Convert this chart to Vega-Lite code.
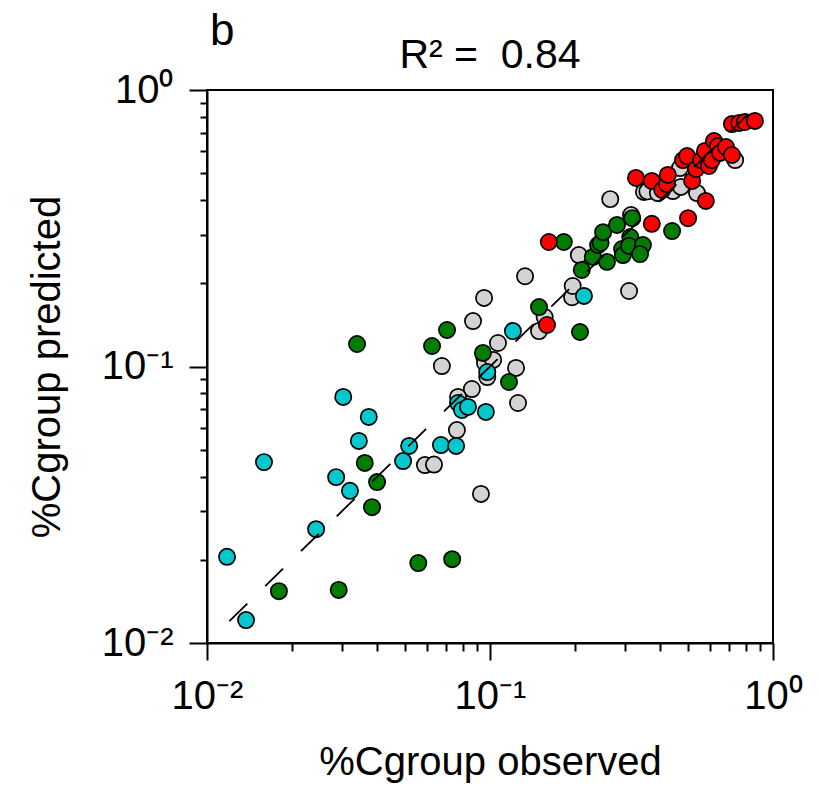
{
  "$schema": "https://vega.github.io/schema/vega-lite/v6.json",
  "width": 566,
  "height": 553,
  "autosize": "none",
  "padding": {"left": 207, "top": 90, "right": 46, "bottom": 155},
  "background": "white",
  "config": {
    "font": "Liberation Sans",
    "view": {"stroke": "black", "strokeWidth": 2}
  },
  "datasets": {
    "pts": [
      {"obs": 0.0953, "pred": 0.177, "group": "gray"},
      {"obs": 0.0871, "pred": 0.146, "group": "gray"},
      {"obs": 0.0676, "pred": 0.1004, "group": "gray"},
      {"obs": 0.0953, "pred": 0.109, "group": "gray"},
      {"obs": 0.1067, "pred": 0.1216, "group": "gray"},
      {"obs": 0.0863, "pred": 0.0829, "group": "gray"},
      {"obs": 0.0771, "pred": 0.0776, "group": "gray"},
      {"obs": 0.0764, "pred": 0.0589, "group": "gray"},
      {"obs": 0.0589, "pred": 0.044, "group": "gray"},
      {"obs": 0.0634, "pred": 0.0442, "group": "gray"},
      {"obs": 0.0929, "pred": 0.0346, "group": "gray"},
      {"obs": 0.096, "pred": 0.103, "group": "gray"},
      {"obs": 0.1026, "pred": 0.1056, "group": "gray"},
      {"obs": 0.0978, "pred": 0.0916, "group": "gray"},
      {"obs": 0.1236, "pred": 0.0988, "group": "gray"},
      {"obs": 0.1256, "pred": 0.0738, "group": "gray"},
      {"obs": 0.133, "pred": 0.212, "group": "gray"},
      {"obs": 0.149, "pred": 0.1343, "group": "gray"},
      {"obs": 0.156, "pred": 0.151, "group": "gray"},
      {"obs": 0.195, "pred": 0.178, "group": "gray"},
      {"obs": 0.196, "pred": 0.1955, "group": "gray"},
      {"obs": 0.206, "pred": 0.253, "group": "gray"},
      {"obs": 0.266, "pred": 0.403, "group": "gray"},
      {"obs": 0.31, "pred": 0.1875, "group": "gray"},
      {"obs": 0.315, "pred": 0.353, "group": "gray"},
      {"obs": 0.35, "pred": 0.428, "group": "gray"},
      {"obs": 0.36, "pred": 0.43, "group": "gray"},
      {"obs": 0.392, "pred": 0.424, "group": "gray"},
      {"obs": 0.41, "pred": 0.44, "group": "gray"},
      {"obs": 0.443, "pred": 0.431, "group": "gray"},
      {"obs": 0.473, "pred": 0.446, "group": "gray"},
      {"obs": 0.539, "pred": 0.424, "group": "gray"},
      {"obs": 0.469, "pred": 0.522, "group": "gray"},
      {"obs": 0.735, "pred": 0.558, "group": "gray"},
      {"obs": 0.01795, "pred": 0.0154, "group": "green"},
      {"obs": 0.0292, "pred": 0.01556, "group": "green"},
      {"obs": 0.0361, "pred": 0.0448, "group": "green"},
      {"obs": 0.0399, "pred": 0.0382, "group": "green"},
      {"obs": 0.0383, "pred": 0.031, "group": "green"},
      {"obs": 0.0558, "pred": 0.01946, "group": "green"},
      {"obs": 0.0735, "pred": 0.0201, "group": "green"},
      {"obs": 0.0339, "pred": 0.1206, "group": "green"},
      {"obs": 0.0624, "pred": 0.1186, "group": "green"},
      {"obs": 0.0705, "pred": 0.1355, "group": "green"},
      {"obs": 0.0944, "pred": 0.112, "group": "green"},
      {"obs": 0.1167, "pred": 0.0879, "group": "green"},
      {"obs": 0.149, "pred": 0.164, "group": "green"},
      {"obs": 0.1823, "pred": 0.282, "group": "green"},
      {"obs": 0.208, "pred": 0.1333, "group": "green"},
      {"obs": 0.211, "pred": 0.2234, "group": "green"},
      {"obs": 0.231, "pred": 0.249, "group": "green"},
      {"obs": 0.241, "pred": 0.275, "group": "green"},
      {"obs": 0.246, "pred": 0.28, "group": "green"},
      {"obs": 0.251, "pred": 0.306, "group": "green"},
      {"obs": 0.259, "pred": 0.239, "group": "green"},
      {"obs": 0.281, "pred": 0.325, "group": "green"},
      {"obs": 0.318, "pred": 0.344, "group": "green"},
      {"obs": 0.313, "pred": 0.294, "group": "green"},
      {"obs": 0.293, "pred": 0.266, "group": "green"},
      {"obs": 0.295, "pred": 0.253, "group": "green"},
      {"obs": 0.31, "pred": 0.273, "group": "green"},
      {"obs": 0.347, "pred": 0.275, "group": "green"},
      {"obs": 0.339, "pred": 0.255, "group": "green"},
      {"obs": 0.44, "pred": 0.309, "group": "green"},
      {"obs": 0.01177, "pred": 0.0205, "group": "cyan"},
      {"obs": 0.01374, "pred": 0.0121, "group": "cyan"},
      {"obs": 0.0159, "pred": 0.0451, "group": "cyan"},
      {"obs": 0.0243, "pred": 0.0258, "group": "cyan"},
      {"obs": 0.0286, "pred": 0.0398, "group": "cyan"},
      {"obs": 0.0303, "pred": 0.0776, "group": "cyan"},
      {"obs": 0.032, "pred": 0.0355, "group": "cyan"},
      {"obs": 0.0344, "pred": 0.0538, "group": "cyan"},
      {"obs": 0.0373, "pred": 0.0657, "group": "cyan"},
      {"obs": 0.0493, "pred": 0.0455, "group": "cyan"},
      {"obs": 0.0518, "pred": 0.0516, "group": "cyan"},
      {"obs": 0.0671, "pred": 0.052, "group": "cyan"},
      {"obs": 0.0759, "pred": 0.0516, "group": "cyan"},
      {"obs": 0.0771, "pred": 0.0738, "group": "cyan"},
      {"obs": 0.0796, "pred": 0.0696, "group": "cyan"},
      {"obs": 0.0836, "pred": 0.0714, "group": "cyan"},
      {"obs": 0.0967, "pred": 0.0685, "group": "cyan"},
      {"obs": 0.0978, "pred": 0.0955, "group": "cyan"},
      {"obs": 0.1205, "pred": 0.1343, "group": "cyan"},
      {"obs": 0.2148, "pred": 0.18, "group": "cyan"},
      {"obs": 0.1614, "pred": 0.282, "group": "red"},
      {"obs": 0.159, "pred": 0.1413, "group": "red"},
      {"obs": 0.373, "pred": 0.328, "group": "red"},
      {"obs": 0.501, "pred": 0.344, "group": "red"},
      {"obs": 0.579, "pred": 0.397, "group": "red"},
      {"obs": 0.328, "pred": 0.481, "group": "red"},
      {"obs": 0.373, "pred": 0.469, "group": "red"},
      {"obs": 0.406, "pred": 0.435, "group": "red"},
      {"obs": 0.422, "pred": 0.457, "group": "red"},
      {"obs": 0.425, "pred": 0.493, "group": "red"},
      {"obs": 0.518, "pred": 0.469, "group": "red"},
      {"obs": 0.481, "pred": 0.558, "group": "red"},
      {"obs": 0.497, "pred": 0.577, "group": "red"},
      {"obs": 0.535, "pred": 0.518, "group": "red"},
      {"obs": 0.557, "pred": 0.558, "group": "red"},
      {"obs": 0.575, "pred": 0.602, "group": "red"},
      {"obs": 0.594, "pred": 0.531, "group": "red"},
      {"obs": 0.608, "pred": 0.558, "group": "red"},
      {"obs": 0.619, "pred": 0.654, "group": "red"},
      {"obs": 0.639, "pred": 0.627, "group": "red"},
      {"obs": 0.65, "pred": 0.592, "group": "red"},
      {"obs": 0.682, "pred": 0.622, "group": "red"},
      {"obs": 0.716, "pred": 0.582, "group": "red"},
      {"obs": 0.716, "pred": 0.753, "group": "red"},
      {"obs": 0.76, "pred": 0.76, "group": "red"},
      {"obs": 0.796, "pred": 0.766, "group": "red"},
      {"obs": 0.863, "pred": 0.773, "group": "red"}
    ],
    "diag": [
      {"obs": 0.012, "pred": 0.012},
      {"obs": 0.88, "pred": 0.88}
    ],
    "panel": [
      {"label": "b", "obs": 0.01025, "pred": 1.455, "anchor": "left"},
      {"label": "R² = \u00a00.84", "obs": 0.1, "pred": 1.201, "anchor": "center"}
    ]
  },
  "layer": [
    {
      "data": {"name": "pts"},
      "mark": {"type": "circle", "size": 265, "stroke": "black", "strokeWidth": 1.7, "opacity": 1},
      "encoding": {
        "x": {
          "field": "obs", "type": "quantitative",
          "scale": {"type": "log", "domain": [0.01, 1], "nice": false},
          "axis": {
            "orient": "bottom",
            "values": [0.01, 0.1, 1],
            "labelExpr": "datum.value < 0.05 ? '10⁻²' : datum.value < 0.5 ? '10⁻¹' : '10⁰'",
            "tickSize": 17, "tickWidth": 2, "tickColor": "black",
            "domainWidth": 2, "domainColor": "black",
            "labelFontSize": 40, "labelColor": "black", "labelPadding": 16,
            "labelFlush": false, "labelOverlap": false, "grid": false,
            "title": "%Cgroup observed", "titleFontSize": 40, "titleFontWeight": "normal",
            "titleColor": "black", "titlePadding": 26
          }
        },
        "y": {
          "field": "pred", "type": "quantitative",
          "scale": {"type": "log", "domain": [0.01, 1], "nice": false},
          "axis": {
            "orient": "left",
            "values": [0.01, 0.1, 1],
            "labelExpr": "datum.value < 0.05 ? '10⁻²' : datum.value < 0.5 ? '10⁻¹' : '10⁰'",
            "tickSize": 18, "tickWidth": 2, "tickColor": "black",
            "domainWidth": 2, "domainColor": "black",
            "labelFontSize": 40, "labelColor": "black", "labelPadding": 16,
            "labelFlush": false, "labelOverlap": false, "grid": false,
            "title": "%Cgroup predicted", "titleFontSize": 40, "titleFontWeight": "normal",
            "titleColor": "black", "titlePadding": 34
          }
        },
        "fill": {
          "field": "group", "type": "nominal",
          "scale": {"domain": ["gray", "green", "cyan", "red"], "range": ["#d3d3d3", "#007d00", "#00c8cc", "#ff0000"]},
          "legend": null
        }
      }
    },
    {
      "data": {"name": "diag"},
      "mark": {"type": "line", "stroke": "black", "strokeWidth": 1.8, "strokeDash": [25, 25]},
      "encoding": {
        "x": {
          "field": "obs", "type": "quantitative",
          "scale": {"type": "log", "domain": [0.01, 1], "nice": false},
          "axis": {
            "orient": "bottom",
            "values": [0.02, 0.03, 0.04, 0.05, 0.06, 0.07, 0.08, 0.09, 0.2, 0.3, 0.4, 0.5, 0.6, 0.7, 0.8, 0.9],
            "labels": false, "domain": false, "grid": false, "title": null,
            "tickSize": 8, "tickWidth": 2, "tickColor": "black"
          }
        },
        "y": {
          "field": "pred", "type": "quantitative",
          "scale": {"type": "log", "domain": [0.01, 1], "nice": false},
          "axis": {
            "orient": "left",
            "values": [0.02, 0.03, 0.04, 0.05, 0.06, 0.07, 0.08, 0.09, 0.2, 0.3, 0.4, 0.5, 0.6, 0.7, 0.8, 0.9],
            "labels": false, "domain": false, "grid": false, "title": null,
            "tickSize": 7, "tickWidth": 2, "tickColor": "black"
          }
        }
      }
    },
    {
      "data": {"name": "panel"},
      "transform": [{"filter": "datum.anchor == 'left'"}],
      "mark": {"type": "text", "align": "left", "baseline": "alphabetic", "fontSize": 44, "font": "Liberation Sans", "color": "black"},
      "encoding": {
        "x": {"field": "obs", "type": "quantitative", "scale": {"type": "log", "domain": [0.01, 1], "nice": false}, "axis": null},
        "y": {"field": "pred", "type": "quantitative", "scale": {"type": "log", "domain": [0.01, 1], "nice": false}, "axis": null},
        "text": {"field": "label"}
      }
    },
    {
      "data": {"name": "panel"},
      "transform": [{"filter": "datum.anchor == 'center'"}],
      "mark": {"type": "text", "align": "center", "baseline": "alphabetic", "fontSize": 41, "font": "Liberation Sans", "color": "black"},
      "encoding": {
        "x": {"field": "obs", "type": "quantitative", "scale": {"type": "log", "domain": [0.01, 1], "nice": false}, "axis": null},
        "y": {"field": "pred", "type": "quantitative", "scale": {"type": "log", "domain": [0.01, 1], "nice": false}, "axis": null},
        "text": {"field": "label"}
      }
    }
  ],
  "resolve": {"axis": {"x": "independent", "y": "independent"}}
}
